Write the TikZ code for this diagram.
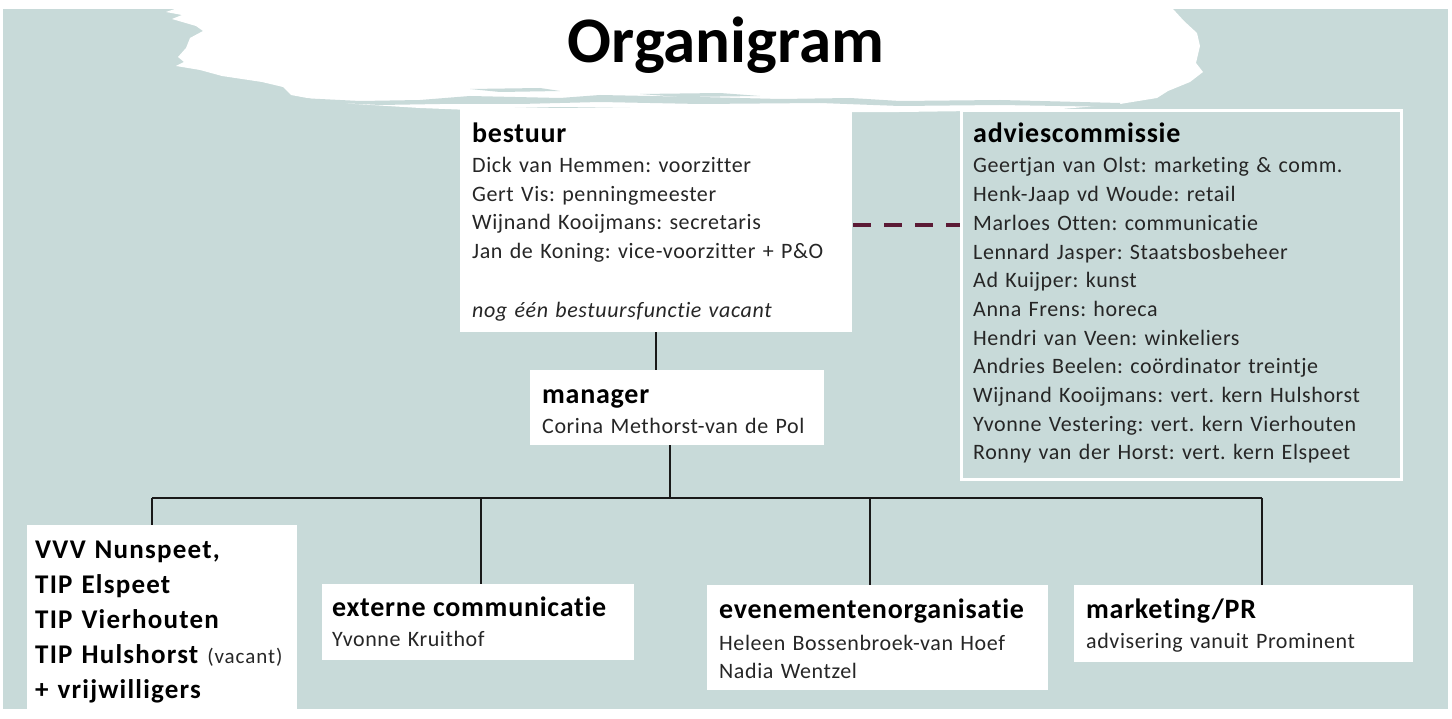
\documentclass[tikz,border=0pt]{standalone}
\usepackage{fontspec}
\setmainfont{Carlito}[Ligatures={TeX,NoCommon}, LetterSpace=2.7]
\newfontfamily\titlef{Carlito}
\newfontfamily\vvvf{Carlito}[Ligatures={TeX,NoCommon}, LetterSpace=4.5]
\frenchspacing
\definecolor{bgc}{HTML}{C8DAD9}
\definecolor{bodytext}{HTML}{262626}
\definecolor{dashc}{HTML}{5B1A35}
\newcommand\orghead[1]{{\fontsize{28}{28.5}\selectfont\bfseries\color{black}#1}}
\tikzset{
  whitebox/.style={fill=white, draw=none, inner sep=0pt, anchor=north west},
  txt/.style={anchor=base west, inner sep=0pt, align=left, text width=#1,
    font=\fontsize{22}{28.5}\selectfont, text=bodytext},
  conn/.style={draw=black!90, line width=2pt},
  dashconn/.style={draw=dashc, line width=4pt, dash pattern=on 18pt off 13pt},
}
\begin{document}
\frenchspacing
\begin{tikzpicture}[x=1pt,y=-1pt]
\useasboundingbox (0,0) rectangle (1452,719);
\fill[white] (0,0) rectangle (1452,719);
\fill[bgc] (3,9) rectangle (1448,709);
% brush stroke
\fill[white] (175,9) -- (166,12) -- (182,15) -- (172,19) -- (196,26) -- (203,31)
  -- (190,38) -- (186,48) -- (178,57) -- (184,62) -- (176,66) -- (200,70)
  -- (222,76) -- (262,82) -- (283,87) -- (291,95) -- (318,100) -- (355,104)
  -- (420,108) -- (520,112) -- (700,113) -- (900,112) -- (1050,110) -- (1120,104)
  -- (1157,98) -- (1168,91) -- (1190,82) -- (1203,72) -- (1196,63) -- (1200,46)
  -- (1197,33) -- (1184,21) -- (1173,9) -- cycle;
% streaks
\fill[bgc] (300,98) -- (360,101) -- (420,100) -- (470,96) -- (560,98) -- (600,95) -- (700,97)
  -- (780,99) -- (850,98) -- (900,101) -- (1000,100) -- (1120,103) -- (1120,107) -- (1000,105)
  -- (900,106) -- (820,103) -- (700,104) -- (600,102) -- (520,104) -- (440,104) -- (380,105) -- (320,102) -- cycle;
\fill[bgc] (470,89) -- (540,88) -- (560,91) -- (500,92) -- cycle;
\fill[bgc] (640,94) -- (720,93) -- (760,96) -- (680,97) -- cycle;
\fill[bgc] (470,109) -- (560,107) -- (700,109) -- (700,112) -- (560,112) -- (470,113) -- cycle;
\node[font=\titlef\fontsize{65}{70}\selectfont\bfseries, anchor=base, inner sep=0pt] (title) at (726,63) {Organigram};

% boxes
\node[whitebox, minimum width=392pt, minimum height=224pt] (bestuur) at (460,108) {};
\node[whitebox, minimum width=294pt, minimum height=75pt] (manager) at (530,370) {};
\node[draw=white, line width=3pt, fill=none, inner sep=0pt, anchor=north west,
  minimum width=440pt, minimum height=369pt] (advies) at (960,109) {};
\node[whitebox, minimum width=270pt, minimum height=184pt] (vvv) at (27,525) {};
\node[whitebox, minimum width=312pt, minimum height=76pt] (ext) at (322,584) {};
\node[whitebox, minimum width=341pt, minimum height=105pt] (even) at (707,585) {};
\node[whitebox, minimum width=339pt, minimum height=77pt] (mark) at (1074,585) {};

% texts
\node[txt=375pt] (tbestuur) at (472,143) {\orghead{bestuur}\\[1.5pt]
Dick van Hemmen: voorzitter\\
Gert Vis: penningmeester\\
Wijnand Kooijmans: secretaris\\
Jan de Koning: vice-voorzitter + P\&O\\[30.5pt]
\textit{nog één bestuursfunctie vacant}};
\node[txt=280pt] (tmanager) at (542,403) {\orghead{manager}\\[1.5pt]
Corina Methorst-van de Pol};
\node[txt=425pt, font=\fontsize{22}{28.7}\selectfont] (tadvies) at (973,143) {\orghead{adviescommissie}\\[1.3pt]
Geertjan van Olst: marketing \& comm.\\
Henk-Jaap vd Woude: retail\\
Marloes Otten: communicatie\\
Lennard Jasper: Staatsbosbeheer\\
Ad Kuijper: kunst\\
Anna Frens: horeca\\
Hendri van Veen: winkeliers\\
Andries Beelen: coördinator treintje\\
Wijnand Kooijmans: vert. kern Hulshorst\\
Yvonne Vestering: vert. kern Vierhouten\\
Ronny van der Horst: vert. kern Elspeet};
\node[txt=262pt, font=\vvvf\fontsize{27}{35}\selectfont\bfseries, text=black] (tvvv) at (35,558) {VVV Nunspeet,\\
TIP Elspeet\\
TIP Vierhouten\\
TIP Hulshorst {\fontsize{21}{35}\selectfont\mdseries\color{bodytext}(vacant)}\\
+ vrijwilligers};
\node[txt=300pt] (text) at (332,616) {\orghead{externe communicatie}\\[1.5pt]
Yvonne Kruithof};
\node[txt=330pt] (teven) at (719,618) {\orghead{evenementenorganisatie}\\[3.5pt]
Heleen Bossenbroek-van Hoef\\
Nadia Wentzel};
\node[txt=330pt] (tmark) at (1086,618) {\orghead{marketing/PR}\\[1.5pt]
advisering vanuit Prominent};

% connectors
\coordinate (hub) at (670,498);
\coordinate (b1) at (152,498);
\coordinate (b2) at (481,498);
\coordinate (b3) at (870,498);
\coordinate (b4) at (1262,498);
\coordinate (dl) at (853,225);
\draw[conn] (bestuur.south) -- (bestuur.south |- manager.north);
\draw[conn] (manager.south -| hub) -- (hub);
\draw[conn] (b1) -- (b4);
\draw[conn] (b1) -- (b1 |- vvv.north);
\draw[conn] (b2) -- (b2 |- ext.north);
\draw[conn] (b3) -- (b3 |- even.north);
\draw[conn] (b4) -- (b4 |- mark.north);
\draw[dashconn] (dl) -- (dl -| advies.west);
\end{tikzpicture}
\end{document}
